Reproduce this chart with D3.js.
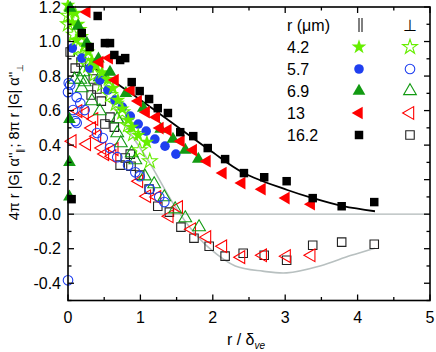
<!DOCTYPE html>
<html><head><meta charset="utf-8">
<script src="https://cdn.jsdelivr.net/npm/d3@7"></script>
<style>
body{margin:0;background:#fff;}
svg{display:block;font-family:"Liberation Sans",Arial,sans-serif;}
</style></head><body>
<svg id="c" width="436" height="352"></svg>
<script>
// ---- data (x = r/δve, y = normalized α'') ----
const radii = ["4.2", "5.7", "6.9", "13", "16.2"];
const xTicks = [0, 1, 2, 3, 4, 5];
const yTicks = [-0.4, -0.2, 0.0, 0.2, 0.4, 0.6, 0.8, 1.0, 1.2];

const star_par = [[0.0,1.21],[0.03,1.17],[0.10,1.165],[0.06,1.11],[0.14,1.10],[0.17,1.07],[0.19,1.03],[0.11,1.01],[0.23,0.98],[0.28,0.94],[0.33,0.89],[0.39,0.86],[0.47,0.82],[0.55,0.78],[0.62,0.73],[0.69,0.66],[0.75,0.61],[0.83,0.545],[0.88,0.504],[0.97,0.458],[1.09,0.417]];
const star_perp = [[0.0,1.15],[0.0,1.10],[0.08,1.04],[0.14,0.96],[0.19,0.92],[0.28,0.86],[0.37,0.81],[0.47,0.75],[0.58,0.69],[0.66,0.64],[0.75,0.59],[0.83,0.516],[0.90,0.464],[0.99,0.371],[1.13,0.307]];
const circ_par = [[0.06,0.962],[0.19,0.904],[0.30,0.846],[0.44,0.777],[0.55,0.719],[0.65,0.661],[0.75,0.620],[0.86,0.568],[0.97,0.522],[1.08,0.481],[1.20,0.435],[1.34,0.394],[1.49,0.348]];
const circ_perp = [[0.01,0.76],[0.03,0.748],[0.0,0.707],[0.12,0.678],[0.17,0.643],[0.07,0.603],[0.12,0.528],[0.23,0.603],[0.10,0.539],[0.40,0.470],[0.48,0.441],[0.58,0.383],[0.68,0.330],[0.83,0.284],[0.93,0.243],[0.99,0.220],[1.13,0.145],[1.26,0.099],[1.33,0.070],[0.0,-0.383]];
const tri_par = [[0.03,1.194],[0.14,1.09],[0.26,0.991],[0.42,0.90],[0.58,0.823],[0.80,0.70],[1.04,0.614],[1.28,0.493],[1.45,0.435],[1.62,0.371],[1.80,0.319],[0.02,0.55],[0.02,0.30],[0.02,0.10]];
const tri_perp = [[0.21,0.823],[0.23,0.765],[0.44,0.794],[0.19,0.730],[0.33,0.655],[0.44,0.597],[0.68,0.551],[0.68,0.470],[0.73,0.412],[0.88,0.354],[0.93,0.313],[1.06,0.220],[1.19,0.174],[1.33,0.099],[1.48,0.029],[1.62,-0.023],[1.81,-0.075],[0.09,0.78],[0.17,0.78]];
const left_par = [[0.26,1.171],[0.44,0.881],[0.57,0.904],[0.65,0.777],[0.87,0.719],[0.97,0.655],[1.08,0.591],[1.22,0.562],[1.27,0.499],[1.38,0.487],[1.56,0.423],[1.73,0.371],[1.92,0.307],[2.14,0.238],[2.40,0.180],[2.68,0.145],[3.01,0.093],[3.36,0.058]];
const left_perp = [[0.14,0.597],[0.23,0.586],[0.36,0.551],[0.33,0.499],[0.40,0.452],[0.06,0.423],[0.26,0.406],[0.47,0.383],[0.51,0.348],[0.64,0.377],[0.61,0.336],[0.98,0.191],[1.09,0.104],[1.23,0.099],[1.40,-0.012],[1.53,0.041],[1.71,-0.087],[1.92,-0.133],[2.14,-0.186],[2.39,-0.249],[2.69,-0.238],[3.02,-0.243],[3.36,-0.238]];
const sq_par = [[0.19,1.049],[0.30,0.968],[0.41,1.148],[0.51,0.991],[0.58,0.991],[0.64,0.922],[0.72,0.893],[0.79,0.904],[0.88,0.765],[0.99,0.713],[1.12,0.667],[1.24,0.614],[1.38,0.586],[1.55,0.475],[1.73,0.452],[1.93,0.383],[2.17,0.319],[2.43,0.238],[2.71,0.214],[3.02,0.191],[3.38,0.093],[3.78,0.046],[4.23,0.070],[0.05,0.087]];
const sq_perp = [[0.03,0.939],[0.18,0.881],[0.10,0.846],[0.35,0.783],[0.40,0.725],[0.32,0.690],[0.46,0.655],[0.58,0.562],[0.51,0.522],[0.64,0.504],[0.86,0.348],[0.79,0.325],[0.72,0.284],[0.87,0.278],[0.99,0.226],[1.12,0.145],[1.24,0.046],[1.40,0.012],[1.56,-0.075],[1.74,-0.139],[1.95,-0.186],[2.17,-0.243],[2.42,-0.226],[2.71,-0.238],[3.02,-0.267],[3.38,-0.180],[3.78,-0.162],[4.23,-0.174]];
const fitBlack = [[0.35,0.85],[0.87,0.70],[1.37,0.55],[1.96,0.37],[2.42,0.24],[3.03,0.14],[3.38,0.093],[3.8,0.046],[4.24,0.017]];
const fitGray = [[0.61,0.638],[0.86,0.47],[1.13,0.296],[1.45,0.064],[1.69,-0.08],[1.96,-0.20],[2.31,-0.30],[2.69,-0.33],[3.02,-0.34],[3.48,-0.30],[3.90,-0.24],[4.24,-0.197]];

// ---- layout ----
const L = 68, R = 430, T = 7, B = 300.5;
const x = d3.scaleLinear().domain([0, 5]).range([L, R]);
const y = d3.scaleLinear().domain([-0.5, 1.2]).range([B, T]);
const svg = d3.select("#c");

const cStar = "#66ee00", cBlue = "#1f3ff0", cGreen = "#129a12", cRed = "#ff0000", cBlack = "#000";

// zero line
svg.append("line").attr("x1", x(0)).attr("x2", x(5)).attr("y1", y(0)).attr("y2", y(0))
  .attr("stroke", "#b0b8b8").attr("stroke-width", 1.2);

// fit curves
const line = d3.line().x(d => x(d[0])).y(d => y(d[1])).curve(d3.curveCatmullRom);
svg.append("path").attr("d", line(fitGray)).attr("fill", "none").attr("stroke", "#b8c0c0").attr("stroke-width", 1.6);
svg.append("path").attr("d", line(fitBlack)).attr("fill", "none").attr("stroke", "#000").attr("stroke-width", 1.8);

// marker shapes
const sym = (type, size) => d3.symbol().type(type).size(size)();
const shapes = {
  star: sym(d3.symbolStar, 68),
  circle: sym(d3.symbolCircle, 72),
  tri: sym(d3.symbolTriangle, 70),
  left: sym(d3.symbolTriangle, 70),
  square: sym(d3.symbolSquare, 72)
};
const series = [
  {data: sq_perp, shape: "square", color: "#222", fill: false},
  {data: left_perp, shape: "left", color: cRed, fill: false},
  {data: tri_perp, shape: "tri", color: cGreen, fill: false},
  {data: circ_perp, shape: "circle", color: cBlue, fill: false},
  {data: star_perp, shape: "star", color: cStar, fill: false},
  {data: circ_par, shape: "circle", color: cBlue, fill: true},
  {data: star_par, shape: "star", color: cStar, fill: true},
  {data: tri_par, shape: "tri", color: cGreen, fill: true},
  {data: left_par, shape: "left", color: cRed, fill: true},
  {data: sq_par, shape: "square", color: cBlack, fill: true}
];
function drawMarker(g, shape, color, fill, cx, cy) {
  g.append("path").attr("d", shapes[shape])
    .attr("transform", `translate(${cx},${cy})` + (shape === "left" ? " rotate(-90)" : ""))
    .attr("fill", fill ? color : "#fff")
    .attr("fill-opacity", fill ? 1 : 0)
    .attr("stroke", color).attr("stroke-width", fill ? 0 : 1.1);
}
const gm = svg.append("g");
series.forEach(s => {
  s.data.forEach(d => drawMarker(gm, s.shape, s.color, s.fill, x(d[0]), y(d[1])));
});

// frame
svg.append("rect").attr("x", L).attr("y", T).attr("width", R - L).attr("height", B - T)
  .attr("fill", "none").attr("stroke", "#000").attr("stroke-width", 1.6);

// ticks (inward on all sides)
const gt = svg.append("g").attr("stroke", "#000").attr("stroke-width", 1.3);
d3.range(0, 5.01, 0.5).forEach(v => {
  const len = Math.abs(v - Math.round(v)) < 1e-6 ? 6 : 3.5;
  gt.append("line").attr("x1", x(v)).attr("x2", x(v)).attr("y1", B).attr("y2", B - len);
  gt.append("line").attr("x1", x(v)).attr("x2", x(v)).attr("y1", T).attr("y2", T + len);
});
d3.range(-0.5, 1.201, 0.1).forEach(v => {
  const major = Math.abs(v * 5 - Math.round(v * 5)) < 1e-6;
  const len = major ? 6 : 3.5;
  gt.append("line").attr("x1", L).attr("x2", L + len).attr("y1", y(v)).attr("y2", y(v));
  gt.append("line").attr("x1", R).attr("x2", R - len).attr("y1", y(v)).attr("y2", y(v));
});

// tick labels
svg.append("g").selectAll("text").data(xTicks).join("text")
  .attr("x", d => x(d)).attr("y", 323).attr("text-anchor", "middle")
  .attr("font-size", 16).text(d => d);
svg.append("g").selectAll("text").data(yTicks).join("text")
  .attr("x", 61).attr("y", d => y(d) + 5.5).attr("text-anchor", "end")
  .attr("font-size", 16).text(d => d.toFixed(1));

// axis labels
const xl = svg.append("text").attr("x", 246).attr("y", 345).attr("text-anchor", "middle").attr("font-size", 16);
xl.append("tspan").text("r / δ");
xl.append("tspan").attr("font-size", 10).attr("font-style", "italic").attr("dy", 4).text("ve");

const yl = svg.append("text").attr("transform", "translate(19,142) rotate(-90)")
  .attr("text-anchor", "middle").attr("font-size", 14.5);
yl.append("tspan").text("4π r |G| α''");
yl.append("tspan").attr("font-size", 9).attr("dy", 4).text("∥");
yl.append("tspan").attr("dy", -4).text("; 8π r |G| α''");
yl.append("tspan").attr("font-size", 9).attr("dy", 4).text("⊥");

// legend
const lg = svg.append("g").attr("font-size", 16);
lg.append("text").attr("x", 287).attr("y", 31).text("r (μm)");
lg.append("line").attr("x1", 359).attr("x2", 359).attr("y1", 18).attr("y2", 32).attr("stroke", "#000").attr("stroke-width", 1);
lg.append("line").attr("x1", 362).attr("x2", 362).attr("y1", 18).attr("y2", 32).attr("stroke", "#000").attr("stroke-width", 1);
lg.append("text").attr("x", 410).attr("y", 31).attr("text-anchor", "middle").text("⊥");
const legShapes = [["star", cStar], ["circle", cBlue], ["tri", cGreen], ["left", cRed], ["square", cBlack]];
const rowY = [47, 69, 91, 113, 135];
radii.forEach((r, i) => {
  lg.append("text").attr("x", 287).attr("y", rowY[i] + 6).text(r);
  drawMarker(lg, legShapes[i][0], legShapes[i][1], true, 359, rowY[i]);
  drawMarker(lg, legShapes[i][0], i === 4 ? "#222" : legShapes[i][1], false, 410, rowY[i]);
});
</script>
</body></html>
